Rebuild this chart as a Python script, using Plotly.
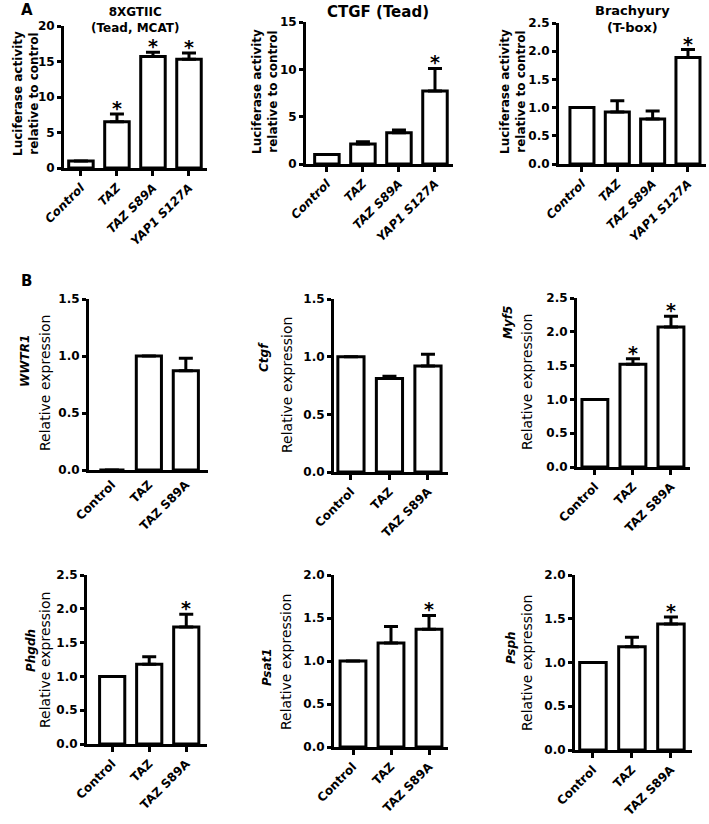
import plotly.graph_objects as go

FONT = "DejaVu Sans"
W, H = 709, 824

# ---------------- data ----------------
a_categories = ["Control", "TAZ", "TAZ S89A", "YAP1 S127A"]
b_categories = ["Control", "TAZ", "TAZ S89A"]

a1_values = [1.0, 6.5, 15.7, 15.3]
a1_errors = [0.0, 1.1, 0.6, 0.9]
a1_sig = [False, True, True, True]

a2_values = [1.0, 2.1, 3.3, 7.7]
a2_errors = [0.0, 0.25, 0.3, 2.4]
a2_sig = [False, False, False, True]

a3_values = [1.0, 0.92, 0.80, 1.89]
a3_errors = [0.0, 0.20, 0.14, 0.14]
a3_sig = [False, False, False, True]

wwtr1_values = [0.0, 1.0, 0.87]
wwtr1_errors = [0.0, 0.0, 0.11]
wwtr1_sig = [False, False, False]

ctgf_values = [1.0, 0.81, 0.92]
ctgf_errors = [0.0, 0.02, 0.10]
ctgf_sig = [False, False, False]

myf5_values = [1.0, 1.52, 2.07]
myf5_errors = [0.0, 0.08, 0.16]
myf5_sig = [False, True, True]

phgdh_values = [1.0, 1.18, 1.73]
phgdh_errors = [0.0, 0.11, 0.19]
phgdh_sig = [False, False, True]

psat1_values = [1.0, 1.21, 1.37]
psat1_errors = [0.0, 0.19, 0.16]
psat1_sig = [False, False, True]

psph_values = [1.0, 1.18, 1.44]
psph_errors = [0.0, 0.11, 0.08]
psph_sig = [False, False, True]

# ---------------- panel layout (pixels) ----------------
panels = [
    dict(cats=a_categories, v=a1_values, e=a1_errors, s=a1_sig, x=(64, 207), y=(26, 168),
         xr=[-0.47, 3.5], yr=[0, 20], dt=5, fmt="d", italic=True, ticks=True),
    dict(cats=a_categories, v=a2_values, e=a2_errors, s=a2_sig, x=(306, 453), y=(22, 164),
         xr=[-0.58, 3.5], yr=[0, 15], dt=5, fmt="d", italic=True, ticks=True),
    dict(cats=a_categories, v=a3_values, e=a3_errors, s=a3_sig, x=(559, 706), y=(23, 164),
         xr=[-0.65, 3.51], yr=[0, 2.5], dt=0.5, fmt=".1f", italic=True, ticks=True),
    dict(cats=b_categories, v=wwtr1_values, e=wwtr1_errors, s=wwtr1_sig, x=(89, 208), y=(299, 470),
         xr=[-0.62, 2.6], yr=[0, 1.5], dt=0.5, fmt=".1f", italic=False, ticks=False),
    dict(cats=b_categories, v=ctgf_values, e=ctgf_errors, s=ctgf_sig, x=(334, 448), y=(299, 472),
         xr=[-0.44, 2.52], yr=[0, 1.5], dt=0.5, fmt=".1f", italic=False, ticks=True),
    dict(cats=b_categories, v=myf5_values, e=myf5_errors, s=myf5_sig, x=(577, 690), y=(298, 467),
         xr=[-0.47, 2.5], yr=[0, 2.5], dt=0.5, fmt=".1f", italic=False, ticks=True),
    dict(cats=b_categories, v=phgdh_values, e=phgdh_errors, s=phgdh_sig, x=(87, 207), y=(575, 744),
         xr=[-0.68, 2.56], yr=[0, 2.5], dt=0.5, fmt=".1f", italic=False, ticks=True),
    dict(cats=b_categories, v=psat1_values, e=psat1_errors, s=psat1_sig, x=(334, 448), y=(575, 747),
         xr=[-0.5, 2.5], yr=[0, 2.0], dt=0.5, fmt=".1f", italic=False, ticks=True),
    dict(cats=b_categories, v=psph_values, e=psph_errors, s=psph_sig, x=(575, 692), y=(575, 750),
         xr=[-0.46, 2.54], yr=[0, 2.0], dt=0.5, fmt=".1f", italic=False, ticks=True),
]


def px_x(x):
    return x / W


def px_y(y):
    return 1 - y / H


fig = go.Figure()
layout = dict(width=W, height=H, autosize=False,
              margin=dict(l=0, r=0, t=0, b=0, autoexpand=False),
              paper_bgcolor="white", plot_bgcolor="white",
              showlegend=False, bargap=0.32,
              font=dict(family=FONT, color="black"))
annotations = []

for i, p in enumerate(panels):
    n = i + 1
    xa = "x" if n == 1 else f"x{n}"
    ya = "y" if n == 1 else f"y{n}"
    fig.add_trace(go.Bar(
        x=p["cats"], y=p["v"], xaxis=xa, yaxis=ya, width=0.68,
        marker=dict(color="white", line=dict(color="black", width=3)),
        error_y=dict(type="data", symmetric=False, array=p["e"],
                     arrayminus=[0] * len(p["e"]), color="black", thickness=3, width=7),
        hoverinfo="skip",
    ))
    tickfont = dict(family=FONT, size=12, color="black", weight="bold")
    xtickfont = dict(tickfont)
    if p["italic"]:
        xtickfont["style"] = "italic"
    layout["xaxis" if n == 1 else f"xaxis{n}"] = dict(
        domain=[px_x(p["x"][0]), px_x(p["x"][1])], anchor=ya, automargin=False,
        type="category", range=p["xr"], showline=True, linewidth=3, linecolor="black",
        ticks="outside" if p["ticks"] else "", ticklen=5, tickwidth=3, tickcolor="black",
        tickangle=-45, tickfont=xtickfont, showgrid=False, zeroline=False, fixedrange=True,
    )
    layout["yaxis" if n == 1 else f"yaxis{n}"] = dict(
        domain=[px_y(p["y"][1]), px_y(p["y"][0])], anchor=xa, automargin=False,
        range=p["yr"], dtick=p["dt"], tick0=0, tickformat=p["fmt"],
        showline=True, linewidth=3, linecolor="black",
        ticks="outside", ticklen=4, tickwidth=3, tickcolor="black",
        tickfont=tickfont, showgrid=False, zeroline=False, fixedrange=True,
    )
    for c, v, e, s in zip(p["cats"], p["v"], p["e"], p["s"]):
        if s:
            annotations.append(dict(
                x=c, y=v + e, xref=xa, yref=ya, text="*", showarrow=False,
                xanchor="center", yanchor="bottom", yshift=-7,
                font=dict(family=FONT, size=19, color="black", weight="bold"),
            ))


def paper_text(text, x, y, size, weight="bold", style="normal", angle=0):
    annotations.append(dict(
        x=px_x(x), y=px_y(y), xref="paper", yref="paper", text=text, showarrow=False,
        xanchor="center", yanchor="middle", textangle=angle,
        font=dict(family=FONT, size=size, color="black", weight=weight, style=style),
    ))


# panel letters
paper_text("A", 27, 10, 15)
paper_text("B", 26, 281, 15)

# titles (row A)
paper_text("8XGTIIC<br>(Tead, MCAT)", 135, 20, 12)
paper_text("CTGF (Tead)", 378, 12, 15)
paper_text("Brachyury<br>(T-box)", 632, 19, 13)

# y axis titles row A
for cx, cy in [(26, 94), (265, 92), (513, 92)]:
    paper_text("Luciferase activity<br>relative to control", cx, cy, 12, angle=-90)

# y axis titles row B
genes = ["WWTR1", "Ctgf", "Myf5", "Phgdh", "Psat1", "Psph"]
gene_pos = [(25, 361), (264, 357), (508, 323), (31, 651), (267, 667), (511, 648)]
re_pos = [(45, 383), (287, 385), (527, 382), (45, 660), (286, 662), (527, 663)]
for g, gp, rp in zip(genes, gene_pos, re_pos):
    paper_text(g, gp[0], gp[1], 12, weight="bold", style="italic", angle=-90)
    paper_text("Relative expression", rp[0], rp[1], 14, weight="normal", angle=-90)

layout["annotations"] = annotations
fig.update_layout(**layout)
fig.write_html(
    "out.html",
    config={"displayModeBar": False, "staticPlot": True},
    post_script="document.body.style.margin='0';document.body.style.padding='0';"
                "document.body.style.overflow='hidden';",
)
